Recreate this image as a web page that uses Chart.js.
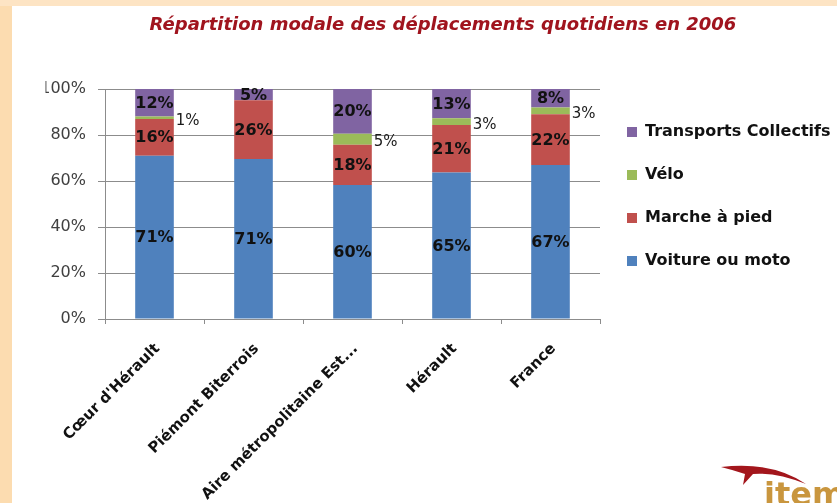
<!DOCTYPE html>
<html lang="fr">
<head>
<meta charset="utf-8">
<title>Répartition modale des déplacements quotidiens en 2006</title>
<script src="https://cdn.jsdelivr.net/npm/chart.js@4.4.1/dist/chart.umd.min.js"></script>
<style>
  html, body { margin: 0; padding: 0; background: #fff; overflow: hidden; }
  body { width: 837px; height: 503px; position: relative; }
  #chart { position: absolute; left: 0; top: 0; }
  #leftBand { position: absolute; left: 0; top: 0; width: 12px; height: 503px; background: #fcdcb0; }
  #topBand { position: absolute; left: 0; top: 0; width: 837px; height: 6px; background: #fde4c4; }
  #swoosh { position: absolute; left: 0; top: 0; }
  #logo { position: absolute; left: 764px; top: 478px; font: bold 32px "DejaVu Sans"; line-height: 1; color: #c9963e; }
</style>
</head>
<body>
<canvas id="chart" width="860" height="503"></canvas>
<div id="leftBand"></div>
<div id="topBand"></div>
<svg id="swoosh" width="837" height="503">
  <path d="M721,467 Q772,461 806,484 Q776,472 753,474 L743,485 L745,474 Q733,470 721,467 Z" fill="#a3161c"/>
</svg>
<div id="logo">item</div>
<script>
// values as printed on the bars (each bar is then shown as 100%)
const categories = ["Cœur d'Hérault", 'Piémont Biterrois', 'Aire métropolitaine Est...', 'Hérault', 'France'];
const voiture = [71, 71, 60, 65, 67];
const marche = [16, 26, 18, 21, 22];
const velo = [1, 0, 5, 3, 3];
const transports = [12, 5, 20, 13, 8];
const yTicks = [0, 20, 40, 60, 80, 100];

const seriesNames = ['Voiture ou moto', 'Marche à pied', 'Vélo', 'Transports Collectifs'];
const seriesColors = ['#4f81bd', '#c0504d', '#9bbb59', '#8064a2'];

const FONT = '"DejaVu Sans"';

const totals = categories.map((c, i) => voiture[i] + marche[i] + velo[i] + transports[i]);
const share = (arr) => arr.map((v, i) => v / totals[i] * 100);

// layout: plot area from x=105 to x=600, legend right of it
const canvasW = 860;
const probe = document.createElement('canvas').getContext('2d');
probe.font = 'bold 16px ' + FONT;
const legendTextW = Math.max(...seriesNames.map(n => probe.measureText(n).width));
const legendPad = 27;
const legendW = legendPad + 10 + 8 + legendTextW + 10;
const padRight = canvasW - 600 - legendW;
const padLeft = 2 * 443 - canvasW + padRight; // centres the title on x=443

const segmentLabels = {
    id: 'segmentLabels',
    afterDatasetsDraw(chart) {
        const ctx = chart.ctx;
        chart.data.datasets.forEach((ds, di) => {
            const meta = chart.getDatasetMeta(di);
            meta.data.forEach((bar, i) => {
                const v = ds.values[i];
                if (!v) return;
                const mid = (bar.y + bar.base) / 2;
                ctx.save();
                ctx.textBaseline = 'middle';
                if (ds.labelOutside) {
                    ctx.font = '15px ' + FONT;
                    ctx.fillStyle = '#1a1a1a';
                    ctx.textAlign = 'left';
                    ctx.fillText(v + '%', bar.x + bar.width / 2 + 2, mid + 3);
                } else {
                    ctx.font = 'bold 16px ' + FONT;
                    ctx.fillStyle = '#111';
                    ctx.textAlign = 'center';
                    ctx.fillText(v + '%', bar.x, mid + 1);
                }
                ctx.restore();
            });
        });
    }
};

const seriesValues = [voiture, marche, velo, transports];
const datasets = seriesNames.map((name, k) => ({
    label: name,
    data: share(seriesValues[k]),
    values: seriesValues[k],
    labelOutside: k === 2,
    backgroundColor: seriesColors[k],
    borderWidth: 0,
    barPercentage: 0.39,
    categoryPercentage: 1
}));

new Chart(document.getElementById('chart'), {
    type: 'bar',
    data: { labels: categories, datasets: datasets },
    plugins: [segmentLabels],
    options: {
        responsive: false,
        animation: false,
        layout: { padding: { left: padLeft, right: padRight, top: 0, bottom: 0 } },
        scales: {
            x: {
                stacked: true,
                grid: { offset: true, drawOnChartArea: false, drawTicks: true, tickLength: 5, color: '#8c8c8c' },
                border: { display: true, color: '#8c8c8c' },
                ticks: {
                    autoSkip: false,
                    minRotation: 45,
                    maxRotation: 45,
                    padding: 16,
                    labelOffset: 3,
                    color: '#111',
                    font: { family: FONT, size: 15, weight: 'bold' }
                },
                afterFit(scale) { scale.height = 503 - 319; }
            },
            y: {
                stacked: true,
                min: 0,
                max: 100,
                afterBuildTicks(scale) { scale.ticks = yTicks.map(v => ({ value: v })); },
                grid: { color: '#8c8c8c', tickLength: 7 },
                border: { display: true, color: '#8c8c8c' },
                ticks: {
                    padding: 12,
                    color: '#404040',
                    font: { family: FONT, size: 16 },
                    callback: (v) => v + '%'
                },
                afterFit(scale) { scale.width = 105 - padLeft; }
            }
        },
        plugins: {
            title: {
                display: true,
                text: 'Répartition modale des déplacements quotidiens en 2006',
                color: '#a0141e',
                font: { family: FONT, size: 18, weight: 'bold', style: 'italic', lineHeight: 1.2 },
                padding: { top: 15, bottom: 89 - 15 - 18 * 1.2 }
            },
            legend: {
                position: 'right',
                align: 'start',
                fullSize: false,
                reverse: true,
                maxWidth: 400,
                title: { display: true, text: '', font: { size: 8, lineHeight: 1 }, padding: 0 },
                labels: {
                    boxWidth: 10,
                    boxHeight: 10,
                    padding: legendPad,
                    color: '#111',
                    font: { family: FONT, size: 16, weight: 'bold' }
                }
            },
            tooltip: { enabled: false }
        }
    }
});
</script>
</body>
</html>
